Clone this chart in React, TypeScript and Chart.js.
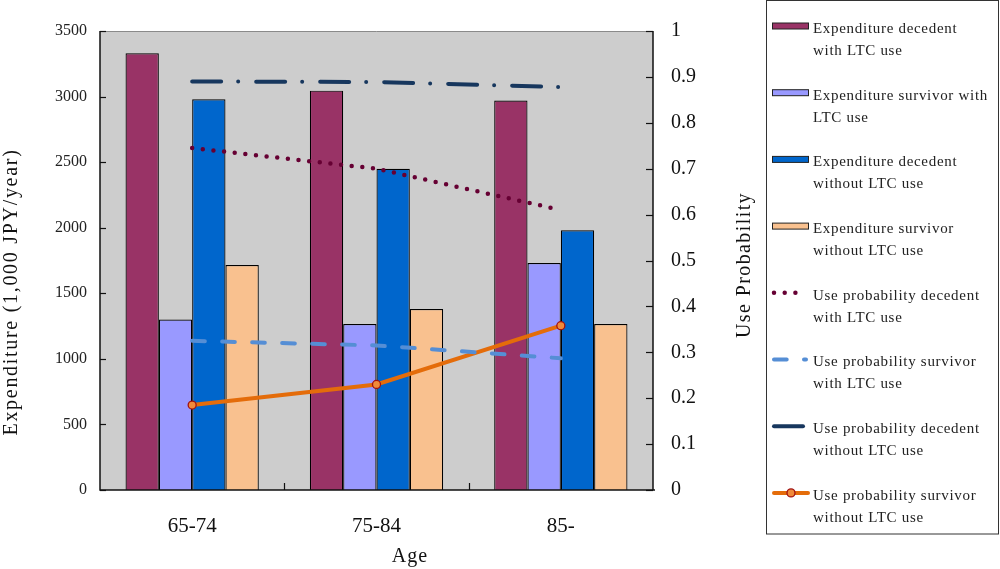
import React, { useEffect, useRef } from 'react';
import { Chart, registerables } from 'chart.js';

Chart.register(...registerables);

// ---- data ----
const ageGroups = ['65-74', '75-84', '85-'];

const expDecedentLTC = [3330, 3045, 2970];
const expSurvivorLTC = [1300, 1265, 1730];
const expDecedentNoLTC = [2980, 2450, 1980];
const expSurvivorNoLTC = [1715, 1380, 1265];

const probDecedentLTC = [0.745, 0.7, 0.61];
const probSurvivorLTC = [0.325, 0.315, 0.287];
const probDecedentNoLTC = [0.89, 0.889, 0.878];
const probSurvivorNoLTC = [0.185, 0.23, 0.358];

const expenditureTicks = ['0', '500', '1000', '1500', '2000', '2500', '3000', '3500'];
const probabilityTicks = ['0', '0.1', '0.2', '0.3', '0.4', '0.5', '0.6', '0.7', '0.8', '0.9', '1'];

const seriesLabels = [
  ['Expenditure decedent', 'with LTC use'],
  ['Expenditure survivor with', 'LTC use'],
  ['Expenditure decedent', 'without LTC use'],
  ['Expenditure survivor', 'without LTC use'],
  ['Use probability decedent', 'with LTC use'],
  ['Use probability survivor', 'with LTC use'],
  ['Use probability decedent', 'without LTC use'],
  ['Use probability survivor', 'without LTC use'],
];

const yTitle = 'Expenditure (1,000 JPY/year)';
const y2Title = 'Use Probability';
const xTitle = 'Age';

const SERIF = '"Liberation Serif", "DejaVu Serif", serif';

const decorPlugin = {
  id: 'decor',
  beforeDraw(chart: any) {
    const { ctx, chartArea: a } = chart;
    ctx.save();
    ctx.fillStyle = '#cdcdcd';
    ctx.fillRect(a.left, a.top, a.right - a.left, a.bottom - a.top);
    ctx.restore();
  },
  afterDraw(chart: any) {
    const { ctx, chartArea: a, scales } = chart;
    ctx.save();
    // frame
    ctx.lineWidth = 1;
    ctx.strokeStyle = '#8a8a8a';
    ctx.beginPath();
    ctx.moveTo(a.left, a.top + 0.5);
    ctx.lineTo(a.right, a.top + 0.5);
    ctx.stroke();
    ctx.strokeStyle = '#111';
    ctx.lineWidth = 1.5;
    ctx.beginPath();
    ctx.moveTo(a.left, a.top);
    ctx.lineTo(a.left, a.bottom);
    ctx.lineTo(a.right + 2, a.bottom);
    ctx.moveTo(a.right, a.top);
    ctx.lineTo(a.right, a.bottom);
    ctx.stroke();
    // inner ticks
    ctx.lineWidth = 1.2;
    const y = scales.y;
    y.ticks.forEach((_t: any, i: number) => {
      const py = Math.round(y.getPixelForTick(i)) + 0.5;
      ctx.beginPath();
      ctx.moveTo(a.left, py);
      ctx.lineTo(a.left + 6, py);
      ctx.stroke();
    });
    const y2 = scales.y2;
    y2.ticks.forEach((_t: any, i: number) => {
      const py = Math.round(y2.getPixelForTick(i)) + 0.5;
      ctx.beginPath();
      ctx.moveTo(a.right - 7, py);
      ctx.lineTo(a.right, py);
      ctx.stroke();
    });
    const x = scales.x;
    for (let i = 0; i < ageGroups.length - 1; i++) {
      const px = Math.round((x.getPixelForValue(i) + x.getPixelForValue(i + 1)) / 2) + 0.5;
      ctx.beginPath();
      ctx.moveTo(px, a.bottom - 7);
      ctx.lineTo(px, a.bottom);
      ctx.stroke();
    }

    // axis titles
    ctx.fillStyle = '#111';
    ctx.textAlign = 'center';
    ctx.textBaseline = 'middle';
    (ctx as any).letterSpacing = '1.7px';
    ctx.font = `20px ${SERIF}`;
    ctx.save();
    ctx.translate(12, 292);
    ctx.rotate(-Math.PI / 2);
    ctx.fillText(yTitle, 0, 0);
    ctx.restore();
    (ctx as any).letterSpacing = '1.4px';
    ctx.save();
    ctx.translate(745, 265);
    ctx.rotate(-Math.PI / 2);
    ctx.fillText(y2Title, 0, 0);
    ctx.restore();
    (ctx as any).letterSpacing = '1px';
    ctx.fillText(xTitle, 410, 557);

    // legend
    const L = 766.5, T = 0.5, R = 998.5, B = 534;
    ctx.strokeStyle = '#333';
    ctx.lineWidth = 1;
    ctx.strokeRect(L, T, R - L, B - T);
    ctx.font = `15px ${SERIF}`;
    (ctx as any).letterSpacing = '0.7px';
    ctx.textAlign = 'left';
    chart.data.datasets.forEach((ds: any, i: number) => {
      const ly = 29 + 66.7 * i;
      const sy = ly - 3;
      if (ds.type === 'bar' || !ds.type) {
        ctx.fillStyle = ds.backgroundColor;
        ctx.fillRect(772, sy - 3, 36, 6);
        ctx.strokeStyle = '#222';
        ctx.lineWidth = 1;
        ctx.strokeRect(772.5, sy - 3, 36, 6);
      } else {
        ctx.save();
        ctx.strokeStyle = ds.borderColor;
        ctx.lineWidth = ds.borderWidth;
        ctx.lineCap = ds.borderCapStyle || 'butt';
        ctx.setLineDash(ds.borderDash || []);
        ctx.beginPath();
        ctx.moveTo(774, sy);
        ctx.lineTo(ds.pointRadius > 0 ? 808 : 806, sy);
        ctx.stroke();
        ctx.setLineDash([]);
        if (ds.pointRadius > 0) {
          ctx.beginPath();
          ctx.arc(791, sy, ds.pointRadius, 0, Math.PI * 2);
          ctx.fillStyle = ds.pointBackgroundColor;
          ctx.fill();
          ctx.strokeStyle = ds.pointBorderColor;
          ctx.lineWidth = ds.pointBorderWidth;
          ctx.stroke();
        }
        ctx.restore();
      }
      ctx.fillStyle = '#222';
      ctx.fillText(seriesLabels[i][0], 813, ly);
      ctx.fillText(seriesLabels[i][1], 813, ly + 22);
    });
    ctx.restore();
  },
};

export default function App() {
  const ref = useRef<HTMLCanvasElement | null>(null);

  useEffect(() => {
    if (!ref.current) return;
    const barCommon = {
      type: 'bar' as const,
      yAxisID: 'y',
      borderColor: '#000',
      borderWidth: 1.2,
      borderSkipped: 'bottom',
      categoryPercentage: 0.723,
      barPercentage: 1,
      order: 2,
    };
    const lineCommon = {
      type: 'line' as const,
      yAxisID: 'y2',
      fill: false,
      tension: 0,
      order: 1,
      pointRadius: 0,
      pointHoverRadius: 0,
    };
    const chart = new Chart(ref.current, {
      data: {
        labels: ageGroups,
        datasets: [
          { ...barCommon, label: seriesLabels[0].join(' '), data: expDecedentLTC, backgroundColor: '#993366' },
          { ...barCommon, label: seriesLabels[1].join(' '), data: expSurvivorLTC, backgroundColor: '#9999ff' },
          { ...barCommon, label: seriesLabels[2].join(' '), data: expDecedentNoLTC, backgroundColor: '#0066cc' },
          { ...barCommon, label: seriesLabels[3].join(' '), data: expSurvivorNoLTC, backgroundColor: '#f9c18f' },
          {
            ...lineCommon, label: seriesLabels[4].join(' '), data: probDecedentLTC,
            borderColor: '#660033', borderWidth: 4.5, borderDash: [0, 10.7], borderCapStyle: 'round',
          },
          {
            ...lineCommon, label: seriesLabels[5].join(' '), data: probSurvivorLTC,
            borderColor: '#558ed5', borderWidth: 4, borderDash: [12.7, 17.3], borderCapStyle: 'round',
          },
          {
            ...lineCommon, label: seriesLabels[6].join(' '), data: probDecedentNoLTC,
            borderColor: '#17375e', borderWidth: 4, borderDash: [29, 17, 0, 18], borderCapStyle: 'round',
          },
          {
            ...lineCommon, label: seriesLabels[7].join(' '), data: probSurvivorNoLTC,
            borderColor: '#e46c0a', borderWidth: 4, borderCapStyle: 'round',
            pointRadius: 4, pointBackgroundColor: '#f08a3a', pointBorderColor: '#a01010', pointBorderWidth: 1.3,
          },
        ] as any,
      },
      options: {
        animation: false,
        responsive: false,
        devicePixelRatio: 1,
        layout: { padding: { top: 31, left: 0, right: 240, bottom: 0 } },
        plugins: { legend: { display: false }, tooltip: { enabled: false } },
        scales: {
          x: {
            type: 'category',
            offset: true,
            grid: { display: false, drawTicks: false },
            border: { display: false },
            ticks: { font: { family: SERIF, size: 21 }, color: '#111', padding: 24, maxRotation: 0 },
            afterFit: (s: any) => { s.height = 79; },
          },
          y: {
            type: 'linear',
            position: 'left',
            min: 0,
            max: 3500,
            grid: { display: false, drawTicks: false },
            border: { display: false },
            ticks: {
              stepSize: 500,
              font: { family: SERIF, size: 16 },
              color: '#222',
              padding: 13,
              callback: (_v: any, i: number) => expenditureTicks[i],
            },
            afterFit: (s: any) => { s.width = 100; },
          },
          y2: {
            type: 'linear',
            position: 'right',
            min: 0,
            max: 1,
            grid: { display: false, drawTicks: false },
            border: { display: false },
            ticks: {
              stepSize: 0.1,
              font: { family: SERIF, size: 20 },
              color: '#111',
              padding: 18,
              callback: (_v: any, i: number) => probabilityTicks[i],
            },
            afterFit: (s: any) => { s.width = 107; },
          },
        },
      } as any,
      plugins: [decorPlugin],
    });
    return () => chart.destroy();
  }, []);

  return (
    <div style={{ position: 'fixed', left: 0, top: 0, width: 1000, height: 569, background: '#fff' }}>
      <canvas ref={ref} width={1000} height={569} style={{ display: 'block' }} />
    </div>
  );
}
